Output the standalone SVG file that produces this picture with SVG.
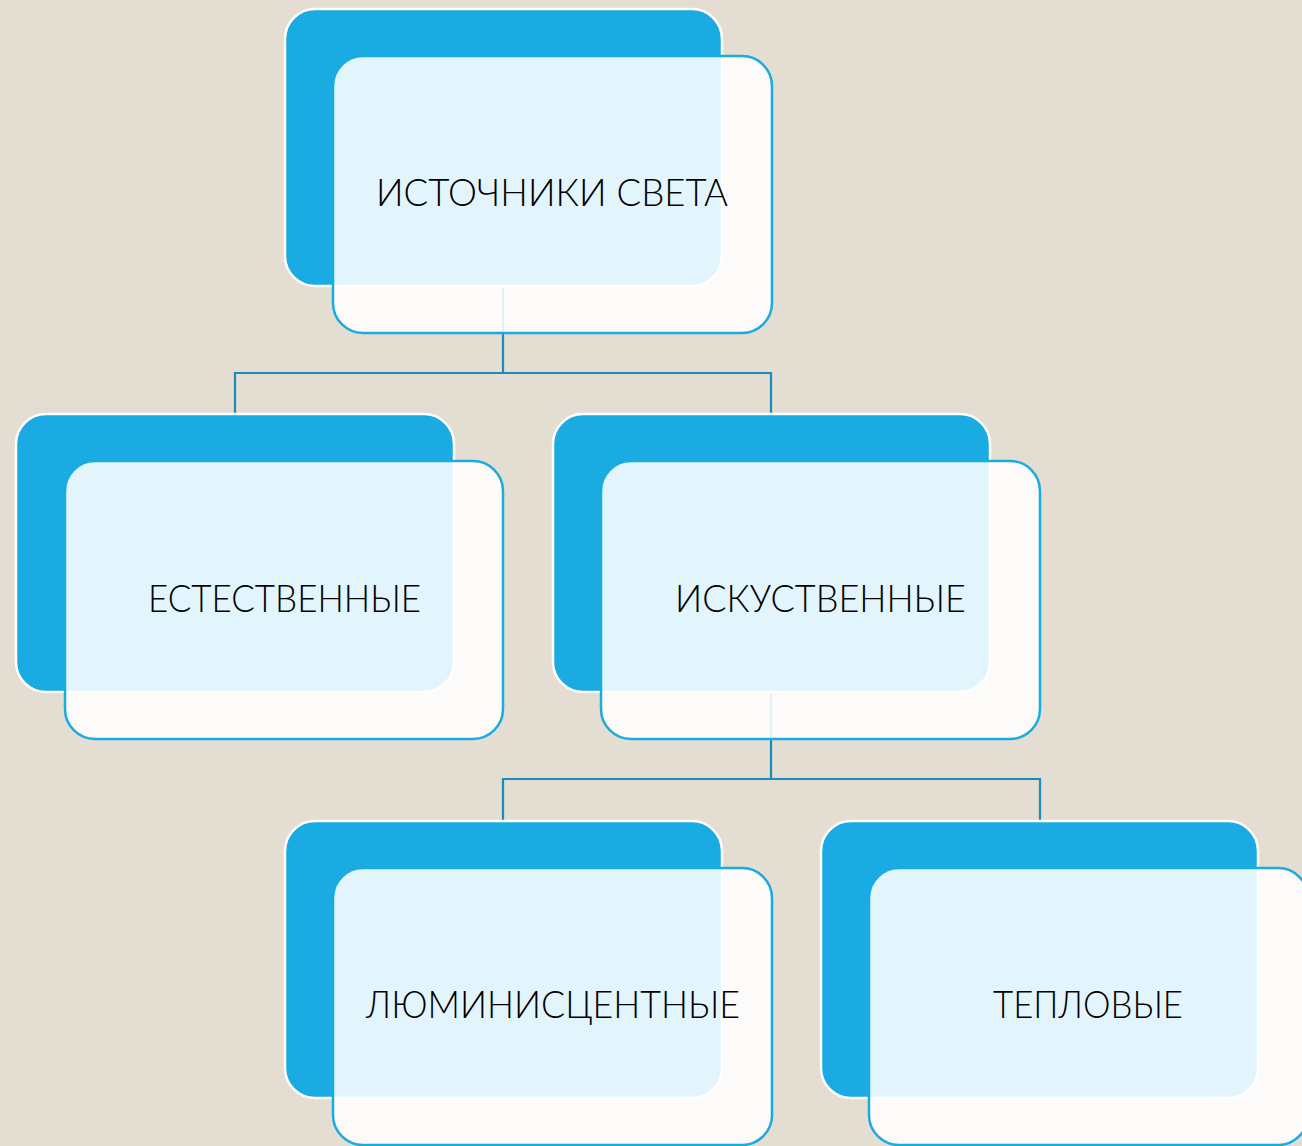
<svg xmlns="http://www.w3.org/2000/svg" width="1302" height="1146" viewBox="0 0 1302 1146">
<style>
.bg{fill:#e3ddd2}
.back{fill:#1aabe2;stroke:#ffffff;stroke-width:2.5}
.front{fill:#ffffff;fill-opacity:0.88;stroke:#1aabe2;stroke-width:2.5}
.conn{fill:none;stroke:#1a8cbd;stroke-width:2.2}
.lbl{font-family:Lato,"Liberation Sans","DejaVu Sans",sans-serif;font-weight:300;font-size:37px;fill:#000;text-anchor:middle}
</style>
<rect class="bg" x="0" y="0" width="1302" height="1146"/>
<g id="connectors">
<path class="conn" d="M503 288V373M235 414V373H771V414"/>
<path class="conn" d="M771 694V779M503 821V779H1040V821"/>
</g>
<g id="node-sources">
<rect class="back" x="285" y="9" width="437" height="277" rx="30"/>
<rect class="front" x="333" y="56" width="439" height="277" rx="30"/>
<text class="lbl" x="552" y="206" textLength="352" lengthAdjust="spacingAndGlyphs">ИСТОЧНИКИ СВЕТА</text>
</g>
<g id="node-natural">
<rect class="back" x="16" y="414" width="438" height="278" rx="30"/>
<rect class="front" x="65" y="461" width="438" height="278" rx="30"/>
<text class="lbl" x="284.5" y="612" textLength="273" lengthAdjust="spacingAndGlyphs">ЕСТЕСТВЕННЫЕ</text>
</g>
<g id="node-artificial">
<rect class="back" x="553" y="414" width="437" height="278" rx="30"/>
<rect class="front" x="601" y="461" width="439" height="278" rx="30"/>
<text class="lbl" x="820.5" y="612" textLength="291" lengthAdjust="spacingAndGlyphs">ИСКУСТВЕННЫЕ</text>
</g>
<g id="node-luminescent">
<rect class="back" x="285" y="821" width="437" height="277" rx="30"/>
<rect class="front" x="333" y="868" width="439" height="277" rx="30"/>
<text class="lbl" x="553" y="1018" textLength="374" lengthAdjust="spacingAndGlyphs">ЛЮМИНИСЦЕНТНЫЕ</text>
</g>
<g id="node-thermal">
<rect class="back" x="821" y="821" width="437" height="277" rx="30"/>
<rect class="front" x="869" y="868" width="439" height="277" rx="30"/>
<text class="lbl" x="1088" y="1018" textLength="190" lengthAdjust="spacingAndGlyphs">ТЕПЛОВЫЕ</text>
</g>
</svg>
